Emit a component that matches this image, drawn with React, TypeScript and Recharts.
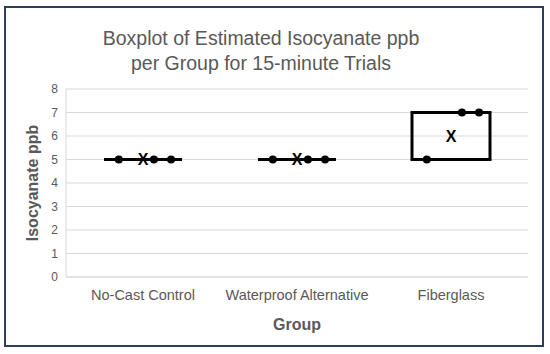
import React from 'react';
import { ComposedChart, Bar, Scatter, XAxis, YAxis, CartesianGrid } from 'recharts';

const groups = ['No-Cast Control', 'Waterproof Alternative', 'Fiberglass'];
const q1Values = [5, 5, 5];
const q3Values = [5, 5, 7];
const meanValues = [5, 5, 6];
const noCastPoints = [5, 5, 5];
const waterproofPoints = [5, 5, 5];
const fiberglassPoints = [5, 7, 7];
const yTicks = [0, 1, 2, 3, 4, 5, 6, 7, 8];

const pointSets = [noCastPoints, waterproofPoints, fiberglassPoints];
const boxData = groups.map((g, i) => ({ group: g, box: [q1Values[i], q3Values[i]] }));
const meanData = groups.map((g, i) => ({ group: g, mean: meanValues[i] }));
const pointData = groups.flatMap((g, i) =>
  pointSets[i].map((v, j) => ({ group: g, value: v, slot: j }))
);

const BOX_W = 78;
const SLOT_SHIFT = [-0.31, 0.14, 0.36];
const TEXT = '#595959';
const FONT = '"Liberation Sans", Arial, sans-serif';

const BoxShape = (props: any) => {
  const { x, y, width, height } = props;
  const top = Math.min(y, y + height);
  const h = Math.abs(height || 0);
  return (
    <path
      d={`M${x},${top}h${width}v${h}h${-width}Z`}
      fill="none"
      stroke="#000"
      strokeWidth={3}
      strokeLinejoin="miter"
    />
  );
};

const DotShape = (props: any) => {
  const { cx, cy, payload } = props;
  const dx = SLOT_SHIFT[payload.slot] * BOX_W;
  return <circle cx={cx + dx} cy={cy} r={4} fill="#000" />;
};

const MeanShape = (props: any) => {
  const { cx, cy } = props;
  return (
    <text
      x={cx}
      y={cy}
      textAnchor="middle"
      dominantBaseline="central"
      fontWeight="bold"
      fontSize={16}
      fontFamily={FONT}
      fill="#000"
    >
      X
    </text>
  );
};

export default function App() {
  return (
    <div style={{ position: 'absolute', left: 0, top: 0, width: 550, height: 354, background: '#fff', fontFamily: FONT }}>
      <div
        style={{
          position: 'absolute',
          left: 4,
          top: 6,
          width: 540,
          height: 341,
          boxSizing: 'border-box',
          border: '2px solid #2f3d5c',
        }}
      />
      <div
        style={{
          position: 'absolute',
          left: 0,
          top: 26,
          width: 522,
          textAlign: 'center',
          fontSize: 19.5,
          lineHeight: '25px',
          color: TEXT,
          fontFamily: FONT,
        }}
      >
        Boxplot of Estimated Isocyanate ppb
        <br />
        per Group for 15-minute Trials
      </div>
      <div style={{ position: 'absolute', left: 0, top: 0 }}>
        <ComposedChart
          width={550}
          height={354}
          data={boxData}
          margin={{ top: 89, right: 22, bottom: 37, left: 16 }}
        >
          <CartesianGrid horizontal vertical={false} stroke="#d9d9d9" />
          <XAxis
            dataKey="group"
            type="category"
            allowDuplicatedCategory={false}
            height={40}
            tickLine={false}
            tickMargin={7}
            axisLine={{ stroke: '#d9d9d9' }}
            tick={{ fill: TEXT, fontSize: 14.5, fontFamily: FONT }}
            label={{
              content: (p: any) => {
                const vb = p.viewBox;
                return (
                  <text
                    x={vb.x + vb.width / 2}
                    y={vb.y + 53}
                    textAnchor="middle"
                    fontWeight="bold"
                    fontSize={16}
                    fontFamily={FONT}
                    fill={TEXT}
                  >
                    Group
                  </text>
                );
              },
            }}
          />
          <YAxis
            type="number"
            domain={[0, 8]}
            ticks={yTicks}
            width={50}
            tickLine={false}
            axisLine={{ stroke: '#d9d9d9' }}
            tick={{ fill: TEXT, fontSize: 12, fontFamily: FONT }}
            label={{
              content: (p: any) => {
                const vb = p.viewBox;
                const cx = vb.x + 16;
                const cy = vb.y + vb.height / 2;
                return (
                  <text
                    x={cx}
                    y={cy}
                    transform={`rotate(-90 ${cx} ${cy})`}
                    textAnchor="middle"
                    dominantBaseline="central"
                    fontWeight="bold"
                    fontSize={16}
                    fontFamily={FONT}
                    fill={TEXT}
                  >
                    Isocyanate ppb
                  </text>
                );
              },
            }}
          />
          <Bar dataKey="box" barSize={BOX_W} shape={BoxShape} isAnimationActive={false} />
          <Scatter data={pointData} dataKey="value" shape={DotShape} isAnimationActive={false} />
          <Scatter data={meanData} dataKey="mean" shape={MeanShape} isAnimationActive={false} />
        </ComposedChart>
      </div>
    </div>
  );
}
